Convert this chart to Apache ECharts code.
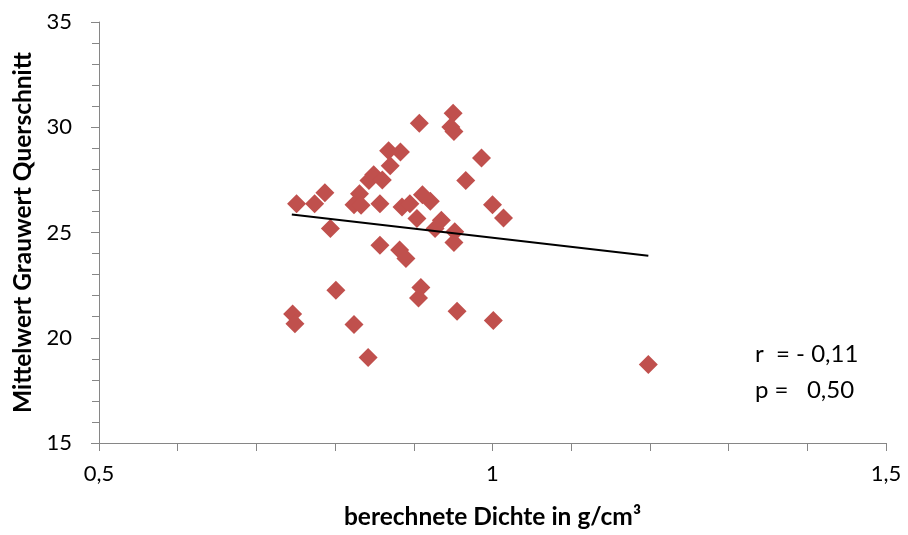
<!DOCTYPE html>
<html>
<head>
<meta charset="utf-8">
<script src="https://cdn.jsdelivr.net/npm/echarts@6/dist/echarts.min.js"></script>
<style>
html,body{margin:0;padding:0;background:#fff;}
#c{width:908px;height:535px;}
</style>
</head>
<body>
<div id="c"></div>
<script>
// Data
const density = [0.751,0.774,0.787,0.794,0.746,0.749,0.801,0.824,0.842,0.857,0.882,0.890,0.909,0.906,0.955,1.001,1.198,0.907,0.950,0.947,0.951,0.986,0.966,0.868,0.883,0.870,0.849,0.843,0.860,0.831,0.824,0.833,0.857,0.885,0.895,0.911,0.921,0.904,1.000,1.014,0.935,0.927,0.952,0.951];
const grayMean = [26.37,26.37,26.89,25.19,21.13,20.66,22.26,20.63,19.06,24.40,24.17,23.77,22.39,21.89,21.26,20.82,18.73,30.19,30.66,30.01,29.80,28.54,27.47,28.88,28.83,28.17,27.74,27.47,27.50,26.84,26.32,26.29,26.37,26.21,26.37,26.79,26.48,25.66,26.32,25.69,25.58,25.19,25.03,24.53];
const trendX = [0.745, 1.198];
const trendY = [25.85, 23.90];
const xTicks = [0.5, 1, 1.5];
const yTicks = [15, 20, 25, 30, 35];
const statsText = ['r  = - 0,11', 'p =   0,50'];

const FONT = 'Lato';
const AXIS_COLOR = '#868686';

const points = density.map((d, i) => [d, grayMean[i]]);
const trend = trendX.map((x, i) => [x, trendY[i]]);

const chart = echarts.init(document.getElementById('c'), null, {renderer: 'canvas'});
chart.setOption({
  animation: false,
  backgroundColor: '#fff',
  grid: {left: 99, right: 22, top: 22, bottom: 89, containLabel: false},
  xAxis: {
    type: 'value',
    min: xTicks[0], max: xTicks[xTicks.length - 1], interval: 0.5,
    name: 'berechnete Dichte in g/cm³',
    nameLocation: 'middle', nameGap: 62,
    nameTextStyle: {fontFamily: FONT, fontWeight: 'bold', fontSize: 24.5, color: '#000'},
    axisLine: {show: true, onZero: false, lineStyle: {color: AXIS_COLOR, width: 1}},
    axisTick: {show: true, length: 8, lineStyle: {color: AXIS_COLOR}},
    minorTick: {show: true, splitNumber: 5, length: 8, lineStyle: {color: AXIS_COLOR}},
    splitLine: {show: false},
    axisLabel: {
      fontFamily: FONT, fontSize: 22, color: '#000', margin: 20,
      formatter: v => String(v).replace('.', ',')
    }
  },
  yAxis: {
    type: 'value',
    min: yTicks[0], max: yTicks[yTicks.length - 1], interval: 5,
    name: 'Mittelwert Grauwert Querschnitt',
    nameLocation: 'middle', nameGap: 63,
    nameTextStyle: {fontFamily: FONT, fontWeight: 'bold', fontSize: 24.5, color: '#000'},
    axisLine: {show: true, onZero: false, lineStyle: {color: AXIS_COLOR, width: 1}},
    axisTick: {show: true, length: 8, lineStyle: {color: AXIS_COLOR}},
    minorTick: {show: true, splitNumber: 5, length: 7, lineStyle: {color: AXIS_COLOR}},
    splitLine: {show: false},
    axisLabel: {fontFamily: FONT, fontSize: 22, color: '#000', margin: 27}
  },
  series: [
    {
      type: 'scatter',
      data: points,
      symbol: 'diamond',
      symbolSize: [19, 19],
      itemStyle: {color: '#C0504D', opacity: 1},
      z: 3
    },
    {
      type: 'line',
      data: trend,
      symbol: 'none',
      lineStyle: {color: '#000', width: 2},
      z: 4
    }
  ],
  graphic: [
    {type: 'text', left: 755, top: 342, style: {text: statsText[0], fontFamily: FONT, fontSize: 24, fill: '#000'}},
    {type: 'text', left: 755, top: 378, style: {text: statsText[1], fontFamily: FONT, fontSize: 24, fill: '#000'}}
  ]
});
</script>
</body>
</html>
